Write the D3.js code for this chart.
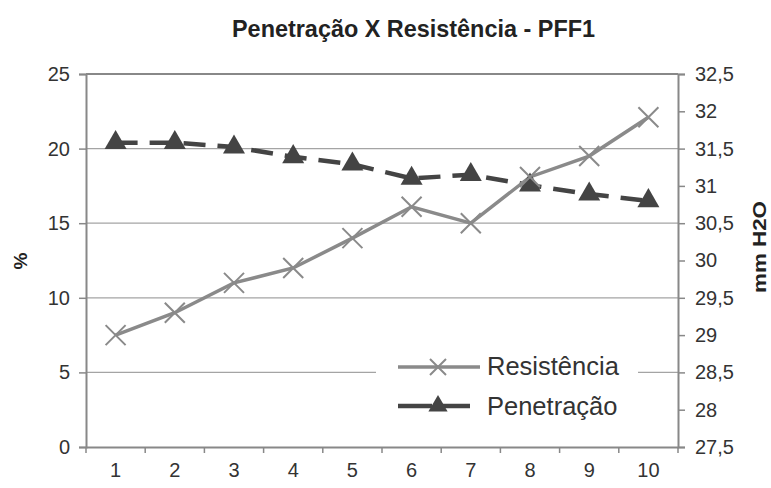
<!DOCTYPE html>
<html><head><meta charset="utf-8">
<script src="https://cdn.jsdelivr.net/npm/d3@7"></script>
<style>body{margin:0;background:#fff}svg text{font-family:"Liberation Sans",Arial,sans-serif}</style>
</head><body>
<svg id="c" width="771" height="488"></svg>
<script>
const categories = ["1","2","3","4","5","6","7","8","9","10"];
const penetracao = [20.4, 20.4, 20.1, 19.45, 18.95, 18.0, 18.25, 17.55, 16.95, 16.5];
const resistencia = [29.0, 29.3, 29.7, 29.9, 30.3, 30.72, 30.5, 31.12, 31.4, 31.92];
const leftTicks = [0,5,10,15,20,25];
const rightTicks = [27.5,28,28.5,29,29.5,30,30.5,31,31.5,32,32.5];

const svg = d3.select("#c");
const L = 86, R = 678, T = 74, B = 447;
const x = d3.scaleBand().domain(categories).range([L, R]);
const yL = d3.scaleLinear().domain([0,25]).range([B, T]);
const yR = d3.scaleLinear().domain([27.5,32.5]).range([B, T]);

// gridlines
svg.append("g").selectAll("line").data(leftTicks.filter(d=>d>0)).join("line")
  .attr("x1", L).attr("x2", R).attr("y1", d=>yL(d)).attr("y2", d=>yL(d))
  .attr("stroke", d=> d===25 ? "#888" : "#a4a4a4").attr("stroke-width", d=> d===25?2:1.3);

// axes
const axL = svg.append("g").attr("transform", `translate(${L},0)`)
  .call(d3.axisLeft(yL).tickValues(leftTicks).tickSize(7).tickPadding(9));
const axR = svg.append("g").attr("transform", `translate(${R},0)`)
  .call(d3.axisRight(yR).tickValues(rightTicks).tickSize(7).tickPadding(10)
    .tickFormat(d => String(d).replace(".", ",")));
const axB = svg.append("g").attr("transform", `translate(0,${B})`)
  .call(d3.axisBottom(x).tickSize(0).tickPadding(16));
// bottom boundary ticks
svg.append("g").selectAll("line").data(d3.range(categories.length+1)).join("line")
  .attr("x1", i=>L + i*x.step()).attr("x2", i=>L + i*x.step())
  .attr("y1", B).attr("y2", B+6).attr("stroke", "#888").attr("stroke-width", 1.5);

[axL, axR, axB].forEach(a => {
  a.attr("font-family", null);
  a.select(".domain").attr("stroke", "#888").attr("stroke-width", 2);
  a.selectAll(".tick line").attr("stroke", "#888").attr("stroke-width", 1.5);
  a.selectAll("text").attr("fill", "#333").style("font-size", "20px");
});

// legend background (covers gridline)
svg.append("rect").attr("x", 376).attr("y", 350).attr("width", 262).attr("height", 72).attr("fill", "#fff");

const cx = (d,i) => x(categories[i]) + x.bandwidth()/2;

// Penetração series (left axis)
svg.append("path").datum(penetracao)
  .attr("d", d3.line().x(cx).y(d=>yL(d)))
  .attr("fill","none").attr("stroke","#444").attr("stroke-width",4.5)
  .attr("stroke-dasharray","22,12");

// Resistência series (right axis)
svg.append("path").datum(resistencia)
  .attr("d", d3.line().x(cx).y(d=>yR(d)))
  .attr("fill","none").attr("stroke","#8a8a8a").attr("stroke-width",3.5);

const tri = d3.symbol().type(d3.symbolTriangle).size(210);
svg.append("g").selectAll("path").data(penetracao).join("path")
  .attr("transform", (d,i)=>`translate(${cx(d,i)},${yL(d)})`)
  .attr("d", tri).attr("fill","#444");

const xs = 10;
const xg = svg.append("g").selectAll("g").data(resistencia).join("g")
  .attr("transform", (d,i)=>`translate(${cx(d,i)},${yR(d)})`);
xg.append("path").attr("d", `M${-xs},${-xs}L${xs},${xs}M${-xs},${xs}L${xs},${-xs}`)
  .attr("stroke","#8a8a8a").attr("stroke-width",2).attr("fill","none");

// legend
const lg = svg.append("g");
lg.append("line").attr("x1",398).attr("x2",480).attr("y1",367).attr("y2",367)
  .attr("stroke","#8a8a8a").attr("stroke-width",3.5);
lg.append("path").attr("transform","translate(438,367)")
  .attr("d", `M-8,-8L8,8M-8,8L8,-8`).attr("stroke","#8a8a8a").attr("stroke-width",2);
lg.append("text").attr("x",487).attr("y",375).text("Resistência")
  .style("font-size","25.5px").attr("fill","#333");
lg.append("line").attr("x1",398).attr("x2",470).attr("y1",406).attr("y2",406)
  .attr("stroke","#444").attr("stroke-width",4.5).attr("stroke-dasharray","34,6");
lg.append("path").attr("transform","translate(438,406)")
  .attr("d", d3.symbol().type(d3.symbolTriangle).size(160)).attr("fill","#444");
lg.append("text").attr("x",487).attr("y",415).text("Penetração")
  .style("font-size","25.5px").attr("fill","#333");

// title and axis labels
svg.append("text").attr("x",232).attr("y",37)
  .attr("textLength",363).attr("lengthAdjust","spacingAndGlyphs")
  .style("font-size","24px").style("font-weight","bold").attr("fill","#222")
  .text("Penetração X Resistência - PFF1");
svg.append("text").attr("transform","translate(27,261) rotate(-90)").attr("text-anchor","middle")
  .style("font-size","19px").style("font-weight","bold").attr("fill","#222").text("%");
svg.append("text").attr("transform","translate(766,247) rotate(-90)").attr("text-anchor","middle")
  .attr("textLength",92).attr("lengthAdjust","spacingAndGlyphs")
  .style("font-size","19px").style("font-weight","bold").attr("fill","#222").text("mm H2O");
</script>
</body></html>
